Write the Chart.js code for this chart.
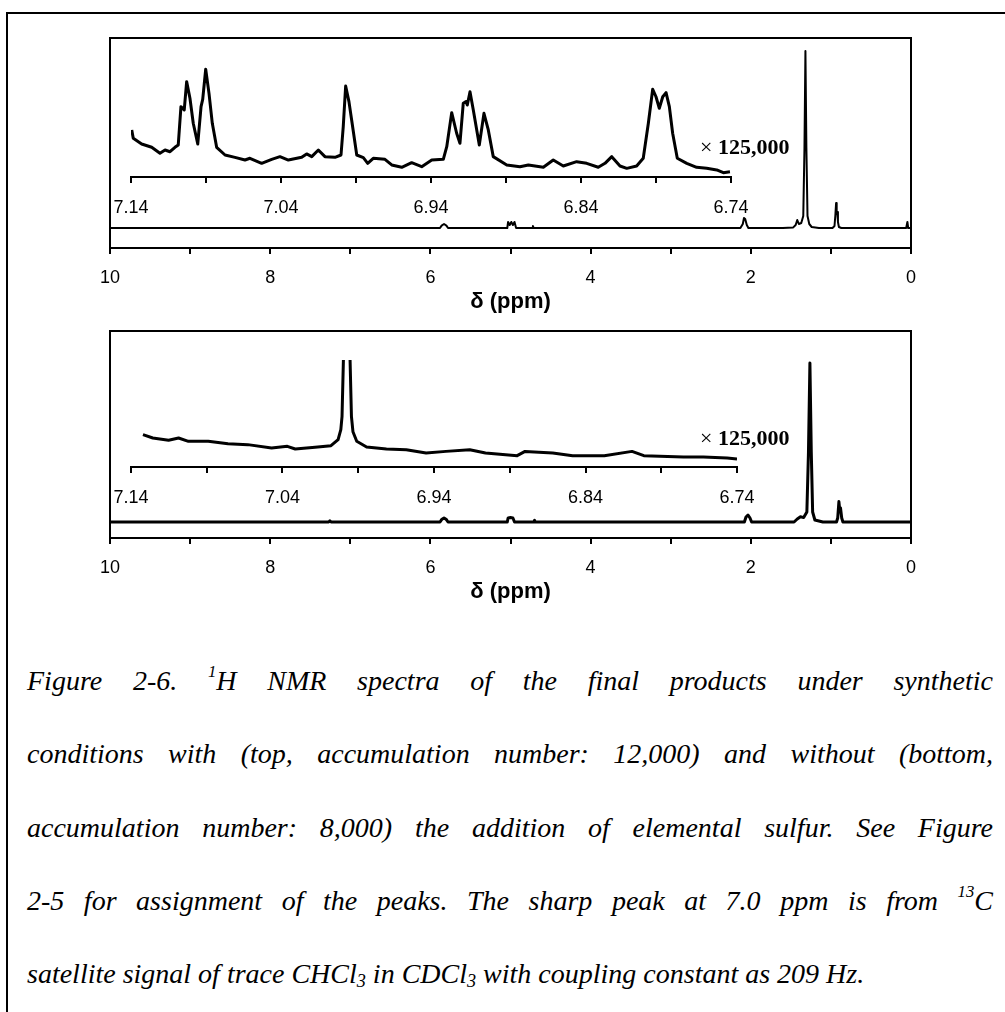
<!DOCTYPE html>
<html>
<head>
<meta charset="utf-8">
<script src="https://cdn.jsdelivr.net/npm/chart.js@4.4.1/dist/chart.umd.min.js"></script>
<style>
  html, body { margin: 0; padding: 0; background: #fff; }
  #page { position: relative; width: 1005px; height: 1012px; overflow: hidden; }
  #frame { position: absolute; left: 6px; top: 12px; width: 1100px; height: 1100px;
           border-top: 2px solid #000; border-left: 2px solid #000; }
  canvas { position: absolute; left: 0; }
  .mult { position: absolute; left: 700px; font-family: "Liberation Serif", serif; font-size: 22px;
          line-height: 22px; color: #000; white-space: nowrap; }
  .mult b { font-weight: bold; }
  .cap { position: absolute; left: 27px; width: 966px; height: 73.2px; line-height: 73.2px;
         font-family: "Liberation Serif", serif; font-style: italic; font-size: 28px; color: #000;
         text-align: justify; text-align-last: justify; }
  .cap.last { text-align: left; text-align-last: left; }
  .cap sup { font-size: 0.6em; line-height: 0; vertical-align: 0.75em; }
  .cap sub { font-size: 0.65em; line-height: 0; vertical-align: -0.2em; }
</style>
</head>
<body>
<div id="page">
  <div id="frame"></div>
  <canvas id="topMain" width="1005" height="320" style="top:0px"></canvas>
  <canvas id="topInset" width="1005" height="240" style="top:0px"></canvas>
  <canvas id="botMain" width="1005" height="320" style="top:290px"></canvas>
  <canvas id="botInset" width="1005" height="240" style="top:300px"></canvas>
  <div class="mult" style="top:136px">× <b>125,000</b></div>
  <div class="mult" style="top:427px">× <b>125,000</b></div>

  <div class="cap" style="top:644px">Figure 2-6. <sup>1</sup>H NMR spectra of the final products under synthetic</div>
  <div class="cap" style="top:717px">conditions with (top, accumulation number: 12,000) and without (bottom,</div>
  <div class="cap" style="top:791px">accumulation number: 8,000) the addition of elemental sulfur. See Figure</div>
  <div class="cap" style="top:864px">2-5 for assignment of the peaks. The sharp peak at 7.0 ppm is from <sup>13</sup>C</div>
  <div class="cap last" style="top:937px">satellite signal of trace CHCl<sub>3</sub> in CDCl<sub>3</sub> with coupling constant as 209 Hz.</div>
</div>

<script>
// full spectra, chemical shift (ppm) and intensity (arb. units)
const topMainPpm = [10, 5.88, 5.86, 5.83, 5.80, 5.78, 5.04, 5.03, 5.01, 4.99, 4.97, 4.95, 4.93, 4.73, 4.72, 4.71,
  2.13, 2.10, 2.085, 2.07, 2.05, 2.03, 1.60, 1.47, 1.44, 1.42, 1.40, 1.37, 1.345, 1.330, 1.318, 1.306, 1.292, 1.27,
  1.24, 1.15, 0.98, 0.955, 0.945, 0.935, 0.928, 0.920, 0.912, 0.90, 0.87, 0.06, 0.045, 0.035, 0];
const topMainInt = [0, 0, 1.2, 2, 1.2, 0, 0, 3, 1.5, 3, 1.5, 3, 0, 0, 1, 0,
  0, 2, 5, 4.5, 1.5, 0, 0, 0.3, 1.5, 4, 2, 2.5, 6, 40, 88.5, 40, 6, 2,
  0.5, 0, 0, 1, 6, 12.5, 7, 8, 3, 0.5, 0, 0, 3, 0, 0];

const botMainPpm = [10, 7.27, 7.255, 7.24, 5.88, 5.86, 5.83, 5.80, 5.78, 5.04, 5.03, 5.00, 4.97, 4.95, 4.71, 4.70, 4.69,
  2.08, 2.06, 2.035, 2.01, 1.99, 1.46, 1.42, 1.38, 1.34, 1.30, 1.28, 1.262, 1.245, 1.228, 1.20, 1.10,
  0.93, 0.915, 0.90, 0.89, 0.88, 0.865, 0.85, 0];
const botMainInt = [0, 0, 0.6, 0, 0, 1.2, 2, 1.2, 0, 0, 2, 2.2, 2, 0, 0, 0.8, 0,
  0, 2.5, 3.5, 2, 0, 0, 1.5, 2.6, 2.2, 5, 35, 79.5, 35, 5, 1, 0,
  0, 2, 10.2, 6, 7, 2, 0, 0];

// expanded region (x 125,000)
const insetTicks = [7.14, 7.09, 7.04, 6.99, 6.94, 6.89, 6.84, 6.79, 6.74];

const topInsetPpm = [7.1395, 7.1385, 7.1329, 7.1262, 7.1207, 7.1173, 7.1140, 7.1107, 7.1085, 7.1067, 7.1045,
  7.1029, 7.1007, 7.0985, 7.0955, 7.0933, 7.0922, 7.0902, 7.0880, 7.0858, 7.0829, 7.0773, 7.0707, 7.0640,
  7.0607, 7.0529, 7.0462, 7.0407, 7.0351, 7.0262, 7.0229, 7.0195, 7.0151, 7.0107, 7.0040, 7.0000, 6.9985,
  6.9969, 6.9947, 6.9929, 6.9895, 6.9851, 6.9822, 6.9785, 6.9707, 6.9662, 6.9595, 6.9529, 6.9462, 6.9395,
  6.9318, 6.9295, 6.9262, 6.9229, 6.9207, 6.9185, 6.9167, 6.9158, 6.9140, 6.9118, 6.9078, 6.9047, 6.9018,
  6.8985, 6.8895, 6.8807, 6.8751, 6.8651, 6.8585, 6.8518, 6.8429, 6.8362, 6.8285, 6.8240, 6.8195, 6.8140,
  6.8095, 6.8029, 6.7985, 6.7951, 6.7922, 6.7900, 6.7878, 6.7855, 6.7833, 6.7811, 6.7789, 6.7758, 6.7695,
  6.7629, 6.7562, 6.7495, 6.7451, 6.7407];
const topInsetInt = [40.2, 33.1, 28.2, 25.4, 20.3, 23.1, 21.6, 25.4, 27.4, 60.1, 57.3,
  81.5, 67.3, 45.9, 28.2, 60.1, 66.4, 92.1, 71.5, 45.9, 25.4, 18.8, 16.8, 14.5,
  16.0, 11.7, 15.1, 17.4, 14.5, 16.8, 19.7, 17.4, 23.1, 17.4, 16.8, 18.8, 43.0,
  77.8, 64.4, 48.7, 18.8, 16.5, 11.7, 16.0, 15.1, 10.3, 8.3, 12.2, 8.8, 14.5,
  15.1, 25.9, 55.0, 37.4, 28.8, 63.0, 64.4, 61.5, 72.9, 57.3, 27.4, 54.4, 40.2,
  17.4, 10.3, 8.8, 10.3, 8.3, 14.5, 9.4, 13.1, 11.7, 8.3, 11.7, 17.4, 9.4,
  7.4, 9.4, 16.0, 45.9, 75.0, 68.6, 58.7, 68.6, 72.1, 60.1, 37.4, 16.0, 11.7,
  8.3, 7.4, 6.0, 3.7, 4.5];

const botInsetPpm = [7.1321, 7.1256, 7.1152, 7.1086, 7.1021, 7.0890, 7.0760, 7.0629, 7.0472, 7.0368, 7.0316,
  7.0185, 7.0080, 7.0033, 7.0015, 7.0007, 6.9998, 6.9990, 6.9976, 6.9962, 6.9954, 6.9945, 6.9935, 6.9910,
  6.9845, 6.9714, 6.9583, 6.9452, 6.9321, 6.9164, 6.9060, 6.8851, 6.8799, 6.8616, 6.8485, 6.8276, 6.8093,
  6.8015, 6.7753, 6.7622, 6.7465, 6.7400];
const botInsetInt = [30.2, 27.1, 25.0, 27.1, 24.0, 24.0, 21.8, 20.9, 17.8, 19.3, 16.8,
  18.4, 19.9, 25.5, 35, 47.4, 100, 250, 420, 250, 100, 47.4, 33, 24.0,
  18.7, 16.8, 16.2, 13.1, 14.6, 16.2, 13.1, 10.6, 14.6, 13.1, 10.6, 10.6, 14.6,
  10.6, 9.3, 9.3, 8.4, 7.5];

Chart.defaults.font.family = '"Liberation Sans", Arial, sans-serif';
Chart.defaults.color = '#000';

const boxPlugin = {
  id: 'box',
  afterDraw(chart) {
    const {ctx, chartArea: a} = chart;
    ctx.save();
    ctx.strokeStyle = '#000';
    ctx.lineWidth = 2;
    ctx.strokeRect(a.left, a.top, a.right - a.left, a.bottom - a.top);
    ctx.restore();
  }
};

function points(xs, ys) {
  return xs.map((x, i) => ({x: x, y: ys[i]}));
}

function mainChart(id, ppm, ints, yMin, yMax, padTop, width) {
  new Chart(document.getElementById(id), {
    type: 'line',
    data: {
      datasets: [{
        data: points(ppm, ints),
        borderColor: '#000',
        borderWidth: width,
        pointRadius: 0,
        tension: 0,
        borderJoinStyle: 'round'
      }]
    },
    options: {
      responsive: false,
      animation: false,
      events: [],
      layout: {padding: {left: 110, right: 94, top: padTop, bottom: 5}},
      plugins: {legend: {display: false}, tooltip: {enabled: false}},
      scales: {
        x: {
          type: 'linear', min: 0, max: 10, reverse: true,
          afterFit: s => { s.height = 67; },
          border: {display: true, color: '#000', width: 2},
          grid: {drawOnChartArea: false, tickLength: 6, color: '#000', lineWidth: 2},
          ticks: {
            stepSize: 1, autoSkip: false, maxRotation: 0, padding: 13, font: {size: 18},
            callback: v => v % 2 === 0 ? String(v) : ''
          },
          title: {display: true, text: 'δ (ppm)', font: {size: 22, weight: 'bold'}, padding: 0}
        },
        y: {display: false, min: yMin, max: yMax}
      }
    },
    plugins: [boxPlugin]
  });
}

function insetChart(id, ppm, ints, padRight, padBottom) {
  new Chart(document.getElementById(id), {
    type: 'line',
    data: {
      datasets: [{
        data: points(ppm, ints),
        borderColor: '#000',
        borderWidth: 3,
        pointRadius: 0,
        tension: 0,
        borderJoinStyle: 'round'
      }]
    },
    options: {
      responsive: false,
      animation: false,
      events: [],
      layout: {padding: {left: 131, right: padRight, top: 60, bottom: padBottom}},
      plugins: {legend: {display: false}, tooltip: {enabled: false}},
      scales: {
        x: {
          type: 'linear', min: 6.74, max: 7.14, reverse: true,
          afterBuildTicks: s => { s.ticks = insetTicks.map(v => ({value: v})); },
          afterFit: s => { s.height = 45; },
          border: {display: true, color: '#000', width: 2},
          grid: {drawOnChartArea: false, tickLength: 6, color: '#000', lineWidth: 2},
          ticks: {
            autoSkip: false, maxRotation: 0, padding: 14, font: {size: 18},
            callback: (v, i) => i % 2 === 0 ? Number(v).toFixed(2) : ''
          }
        },
        y: {display: false, min: 0, max: 100}
      }
    }
  });
}

mainChart('topMain', topMainPpm, topMainInt, -10, 95, 38, 2);
mainChart('botMain', botMainPpm, botMainInt, -8, 95.5, 41, 3);
insetChart('topInset', topInsetPpm, topInsetInt, 274, 18);
insetChart('botInset', botInsetPpm, botInsetInt, 268, 28);
</script>
</body>
</html>
